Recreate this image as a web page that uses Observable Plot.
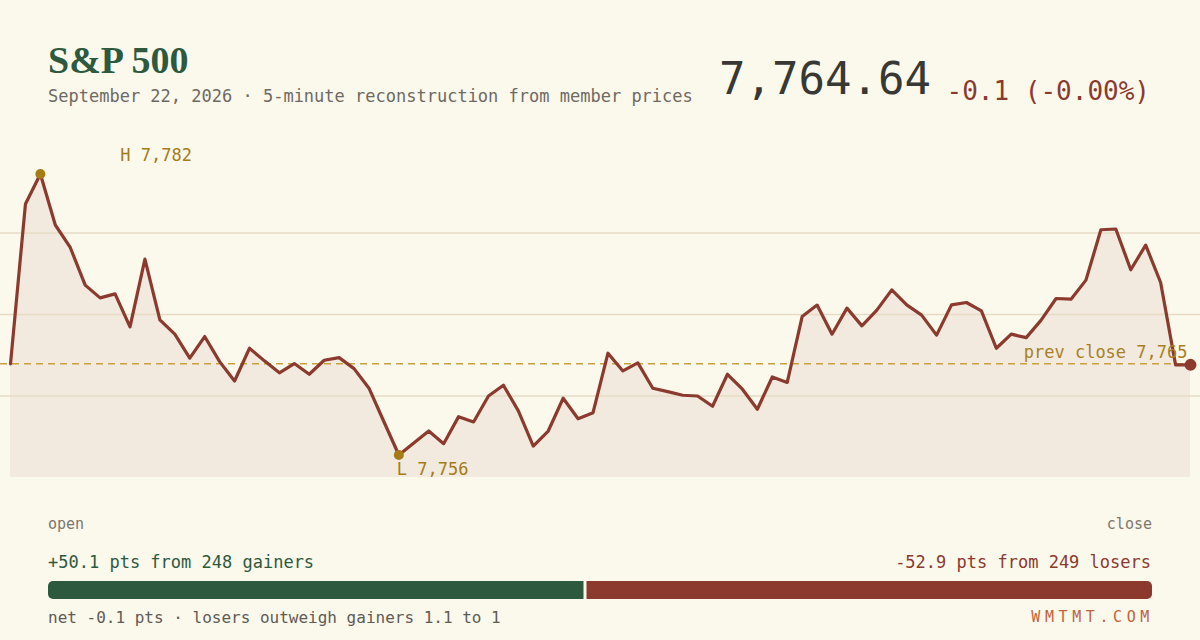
<!DOCTYPE html>
<html><head><meta charset="utf-8">
<script src="https://cdn.jsdelivr.net/npm/d3@7"></script>
<script src="https://cdn.jsdelivr.net/npm/@observablehq/plot@0.6"></script>
<style>
html,body{margin:0;padding:0;background:#fbf8ec;width:1200px;height:640px;overflow:hidden}
body{position:relative;font-family:"DejaVu Sans Mono",monospace}
.abs{position:absolute;white-space:nowrap;line-height:1}
#title{left:48px;top:41px;font-family:"Liberation Serif",serif;font-weight:bold;font-size:38px;color:#2d5a3e}
#sub{left:48px;top:88px;font-size:17px;color:#6e6a62}
#price{right:269px;top:57px;font-size:44px;color:#383834}
#chg{right:50px;top:78px;font-size:26px;color:#8b3a2e}
#chart{left:0;top:130px}
#open{left:48px;top:517px;font-size:15px;color:#7b776f}
#close{right:48px;top:517px;font-size:15px;color:#7b776f}
#gain{left:48px;top:554px;font-size:17px;color:#2d5a3e}
#lose{right:49px;top:554px;font-size:17px;color:#8b3a2e}
#bar{left:48px;top:581px;width:1104px;height:18px;border-radius:5px;overflow:hidden}
#net{left:48px;top:610px;font-size:16px;color:#5f5b55}
#brand{right:46px;top:610px;font-size:15px;letter-spacing:4.6px;color:#c0643a}
</style></head>
<body>
<div id="title" class="abs">S&amp;P 500</div>
<div id="sub" class="abs">September 22, 2026 · 5-minute reconstruction from member prices</div>
<div id="price" class="abs"></div>
<div id="chg" class="abs"></div>
<div id="chart" class="abs"></div>
<div id="open" class="abs">open</div>
<div id="close" class="abs">close</div>
<div id="gain" class="abs"></div>
<div id="lose" class="abs"></div>
<div id="bar" class="abs"></div>
<div id="net" class="abs"></div>
<div id="brand" class="abs">WMTMT.COM</div>
<script>
// 5-minute index levels, open to close
const prices = [
  7764.74, 7779.52, 7782.30, 7777.58, 7775.50, 7772.02, 7770.84, 7771.21, 7768.16, 7774.43,
  7768.80, 7767.48, 7765.26, 7767.26, 7764.94, 7763.15, 7766.18, 7765.01, 7763.90, 7764.76,
  7763.77, 7765.07, 7765.31, 7764.29, 7762.48, 7759.38, 7756.30, 7757.41, 7758.52, 7757.35,
  7759.85, 7759.36, 7761.76, 7762.76, 7760.38, 7757.13, 7758.52, 7761.55, 7759.66, 7760.22,
  7765.72, 7764.08, 7764.82, 7762.48, 7762.16, 7761.83, 7761.76, 7760.81, 7763.77, 7762.39,
  7760.53, 7763.52, 7763.02, 7769.11, 7770.17, 7767.48, 7769.89, 7768.25, 7769.70, 7771.58,
  7770.19, 7769.24, 7767.39, 7770.19, 7770.41, 7769.64, 7766.18, 7767.48, 7767.16, 7768.78,
  7770.78, 7770.72, 7772.48, 7777.14, 7777.21, 7773.44, 7775.72, 7772.26, 7764.64, 7764.64
];
const prevClose = 7764.74;
const lastPrice = 7764.64;
const gainersPts = 50.1, gainersCount = 248;
const losersPts = 52.9, losersCount = 249;
const breadthRatio = 1.1;

const fmt0 = d3.format(",.0f");
const change = lastPrice - prevClose;
const pct = change / prevClose * 100;
document.getElementById("price").textContent = d3.format(",.2f")(lastPrice);
document.getElementById("chg").textContent = `${change.toFixed(1)} (${pct.toFixed(2)}%)`;
document.getElementById("gain").textContent = `+${gainersPts.toFixed(1)} pts from ${gainersCount} gainers`;
document.getElementById("lose").textContent = `-${losersPts.toFixed(1)} pts from ${losersCount} losers`;
document.getElementById("net").textContent = `net ${change.toFixed(1)} pts · losers outweigh gainers ${breadthRatio.toFixed(1)} to 1`;

const n = prices.length;
const data = prices.map((v, i) => ({i, v}));
const hi = d3.max(prices), lo = d3.min(prices);
const pad = (hi - lo) * 0.08;
const dom = [lo - pad, hi + pad];
const grid = [1, 2, 3].map(k => dom[0] + (dom[1] - dom[0]) * k / 4);
const hiD = data[d3.maxIndex(prices)], loD = data[d3.minIndex(prices)];
const gold = "#a57c16", red = "#8c3a2e";

const chart = Plot.plot({
  width: 1200, height: 350,
  marginTop: 21, marginBottom: 3, marginLeft: 0, marginRight: 0,
  style: {background: "transparent", fontFamily: "DejaVu Sans Mono, monospace"},
  x: {domain: [0, n - 1], inset: 10, axis: null},
  y: {domain: dom, axis: null},
  marks: [
    Plot.areaY(data, {x: "i", y1: dom[0], y2: "v", fill: "#f2eadf"}),
    Plot.ruleY(grid, {stroke: "#e6dcc6", strokeWidth: 1.5}),
    Plot.ruleY([prevClose], {stroke: "#c8a13e", strokeWidth: 1.5, strokeDasharray: "7,5"}),
    Plot.lineY(data, {x: "i", y: "v", stroke: red, strokeWidth: 3.2, strokeLinejoin: "round"}),
    Plot.dot([hiD, loD], {x: "i", y: "v", r: 5, fill: gold}),
    Plot.dot([data[n - 1]], {x: "i", y: "v", r: 6, fill: red}),
    Plot.text([hiD], {x: "i", y: "v", text: d => `H ${fmt0(d.v)}`, textAnchor: "start", dx: 80, dy: -18, fill: gold, fontSize: 17}),
    Plot.text([loD], {x: "i", y: "v", text: d => `L ${fmt0(d.v)}`, textAnchor: "start", dx: -2, dy: 15, fill: gold, fontSize: 17}),
    Plot.text([{i: n - 1, v: prevClose}], {x: "i", y: "v", text: d => `prev close ${fmt0(d.v)}`, textAnchor: "end", dx: -3, dy: -11, fill: "#a8811f", fontSize: 17})
  ]
});
document.getElementById("chart").appendChild(chart);

const total = gainersPts + losersPts;
const bar = Plot.plot({
  width: 1104, height: 18, margin: 0,
  style: {background: "transparent"},
  x: {domain: [0, total], axis: null},
  marks: [
    Plot.barX([{a: 0, b: gainersPts}], {x1: "a", x2: "b", fill: "#2d5a3e", insetRight: 1.5}),
    Plot.barX([{a: gainersPts, b: total}], {x1: "a", x2: "b", fill: "#8c3a2e", insetLeft: 1.5})
  ]
});
document.getElementById("bar").appendChild(bar);
</script>
</body></html>
